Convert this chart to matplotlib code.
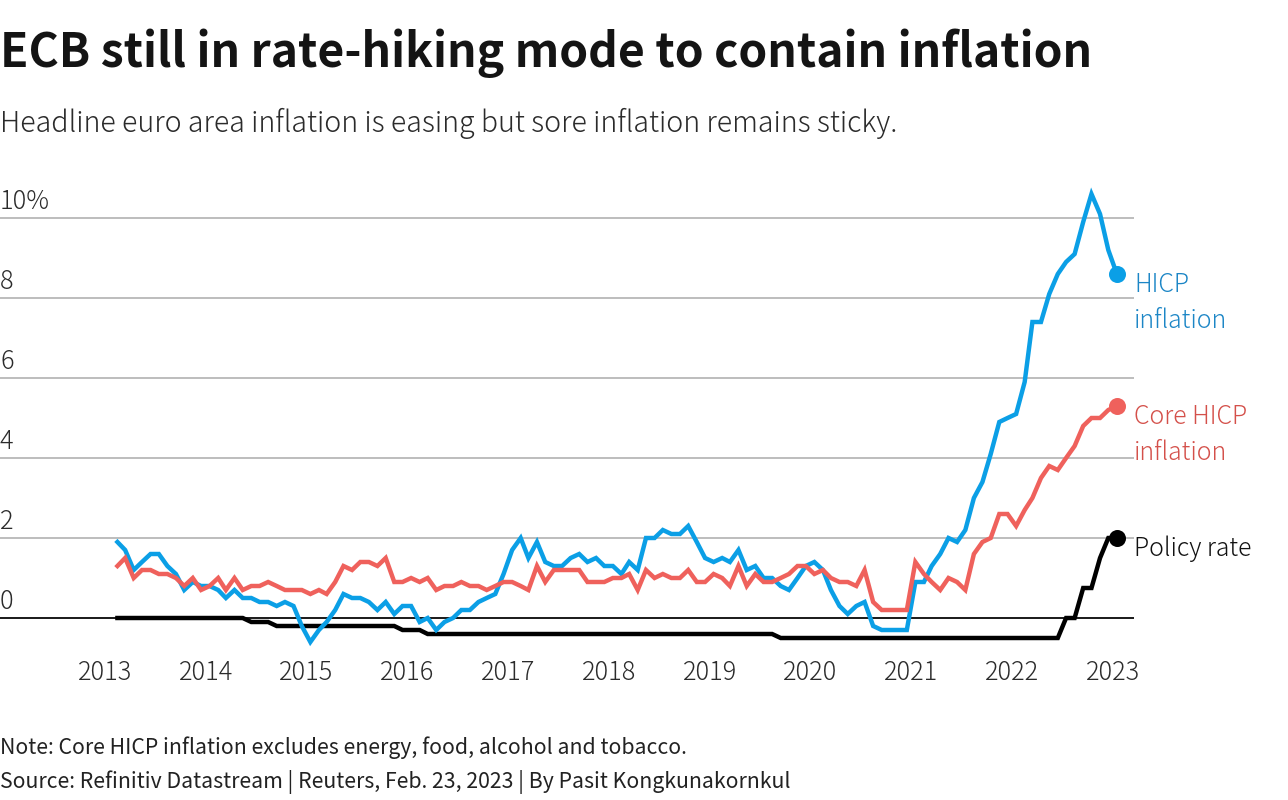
import pandas as pd
import numpy as np
import matplotlib
matplotlib.use("Agg")
import matplotlib.pyplot as plt
import matplotlib.dates as mdates
from matplotlib.transforms import ScaledTranslation

plt.rcParams['font.family'] = ['Noto Sans CJK JP', 'DejaVu Sans']

# monthly values, Feb 2013 - Jan 2023, plotted mid month
hicp = [1.9, 1.7, 1.2, 1.4, 1.6, 1.6, 1.3, 1.1, 0.7, 0.9, 0.8, 0.8,
        0.7, 0.5, 0.7, 0.5, 0.5, 0.4, 0.4, 0.3, 0.4, 0.3, -0.2, -0.6,
        -0.3, -0.1, 0.2, 0.6, 0.5, 0.5, 0.4, 0.2, 0.4, 0.1, 0.3, 0.3,
        -0.1, 0.0, -0.3, -0.1, 0.0, 0.2, 0.2, 0.4, 0.5, 0.6, 1.1, 1.7,
        2.0, 1.5, 1.9, 1.4, 1.3, 1.3, 1.5, 1.6, 1.4, 1.5, 1.3, 1.3,
        1.1, 1.4, 1.2, 2.0, 2.0, 2.2, 2.1, 2.1, 2.3, 1.9, 1.5, 1.4,
        1.5, 1.4, 1.7, 1.2, 1.3, 1.0, 1.0, 0.8, 0.7, 1.0, 1.3, 1.4,
        1.2, 0.7, 0.3, 0.1, 0.3, 0.4, -0.2, -0.3, -0.3, -0.3, -0.3, 0.9,
        0.9, 1.3, 1.6, 2.0, 1.9, 2.2, 3.0, 3.4, 4.1, 4.9, 5.0, 5.1,
        5.9, 7.4, 7.4, 8.1, 8.6, 8.9, 9.1, 9.9, 10.6, 10.1, 9.2, 8.6]

core = [1.3, 1.5, 1.0, 1.2, 1.2, 1.1, 1.1, 1.0, 0.8, 1.0, 0.7, 0.8,
        1.0, 0.7, 1.0, 0.7, 0.8, 0.8, 0.9, 0.8, 0.7, 0.7, 0.7, 0.6,
        0.7, 0.6, 0.9, 1.3, 1.2, 1.4, 1.4, 1.3, 1.5, 0.9, 0.9, 1.0,
        0.9, 1.0, 0.7, 0.8, 0.8, 0.9, 0.8, 0.8, 0.7, 0.8, 0.9, 0.9,
        0.8, 0.7, 1.3, 0.9, 1.2, 1.2, 1.2, 1.2, 0.9, 0.9, 0.9, 1.0,
        1.0, 1.1, 0.7, 1.2, 1.0, 1.1, 1.0, 1.0, 1.2, 0.9, 0.9, 1.1,
        1.0, 0.8, 1.3, 0.8, 1.1, 0.9, 0.9, 1.0, 1.1, 1.3, 1.3, 1.1,
        1.2, 1.0, 0.9, 0.9, 0.8, 1.2, 0.4, 0.2, 0.2, 0.2, 0.2, 1.4,
        1.1, 0.9, 0.7, 1.0, 0.9, 0.7, 1.6, 1.9, 2.0, 2.6, 2.6, 2.3,
        2.7, 3.0, 3.5, 3.8, 3.7, 4.0, 4.3, 4.8, 5.0, 5.0, 5.2, 5.3]

policy = [0.0] * 16 + [-0.1] * 3 + [-0.2] * 15 + [-0.3] * 3 + [-0.4] * 42 + [-0.5] * 34 + \
         [0.0, 0.0, 0.75, 0.75, 1.5, 2.0, 2.0]

years = list(range(2013, 2024))
y_ticks = [0, 2, 4, 6, 8, 10]
y_labels = ["0", "2", "4", "6", "8", "10%"]

dates = pd.date_range("2013-02-01", periods=120, freq="MS") + pd.Timedelta(days=14)

W, H = 1288, 800
blue = "#0b9fe6"
red = "#ef615c"
blue_txt = "#1c86c6"
red_txt = "#d4504a"
dark = "#2b2b2b"

fig = plt.figure(figsize=(W / 100, H / 100), dpi=100)
# plot frame in pixels: full width up to 1134, 10 at y=218, 0 at y=618
top_px, bot_px = 180, 655
ax = fig.add_axes([0, 1 - bot_px / H, 1134 / W, (bot_px - top_px) / H])
ax.set_ylim((618 - bot_px) / 40, (618 - top_px) / 40)

d0 = mdates.date2num(pd.Timestamp("2013-01-01"))
d1 = mdates.date2num(pd.Timestamp("2023-01-01"))
px_day = (1113 - 105) / (d1 - d0)
ax.set_xlim(d0 - 105 / px_day, d0 + (1134 - 105) / px_day)

for s in ax.spines.values():
    s.set_visible(False)

ax.set_yticks(y_ticks)
ax.set_yticklabels(y_labels, ha="left", va="baseline", fontsize=18.2, color=dark, fontweight="light")
ax.tick_params(axis="y", length=0, pad=0)
shift = ScaledTranslation(0, 9 / 100, fig.dpi_scale_trans)
for lab in ax.get_yticklabels():
    lab.set_transform(ax.get_yaxis_transform() + shift)

ax.set_xticks([pd.Timestamp(f"{y}-01-01") for y in years])
ax.set_xticklabels([str(y) for y in years], fontsize=18.2, color=dark, fontweight="light")
ax.tick_params(axis="x", length=0, pad=3.5)

ax.grid(axis="y", color="#ababab", lw=1.1, zorder=1)
ax.axhline(0, color="black", lw=1.2, zorder=2)

for vals, col in [(policy, "black"), (hicp, blue), (core, red)]:
    ax.plot(dates, vals, color=col, lw=3.2, zorder=3, solid_joinstyle="miter", clip_on=False)
    ax.scatter(dates[-1], vals[-1], s=150, color=col, zorder=4, clip_on=False, linewidths=0)


def label(x, y, txt, **kw):
    # x, y in pixels from the top left, y is the baseline
    fig.text(x / W, 1 - y / H, txt, va="baseline", ha="left", **kw)


label(0, 67, "ECB still in rate-hiking mode to contain inflation", fontsize=33.25, fontweight="bold", color="#141414")
label(0, 132, "Headline euro area inflation is easing but sore inflation remains sticky.", fontsize=20.55, color=dark, fontweight="light")

label(1134, 292, "HICP", fontsize=17.85, color=blue_txt, fontweight="light")
label(1134, 328, "inflation", fontsize=17.85, color=blue_txt, fontweight="light")
label(1134, 424, "Core HICP", fontsize=17.85, color=red_txt, fontweight="light")
label(1134, 460, "inflation", fontsize=17.85, color=red_txt, fontweight="light")
label(1134, 556, "Policy rate", fontsize=17.85, color="#111111", fontweight="light")

label(0, 754, "Note: Core HICP inflation excludes energy, food, alcohol and tobacco.", fontsize=15.3, color="#222222")
label(0, 788, "Source: Refinitiv Datastream | Reuters, Feb. 23, 2023 | By Pasit Kongkunakornkul", fontsize=15.3, color="#222222")

fig.savefig("out.png", dpi=100)
